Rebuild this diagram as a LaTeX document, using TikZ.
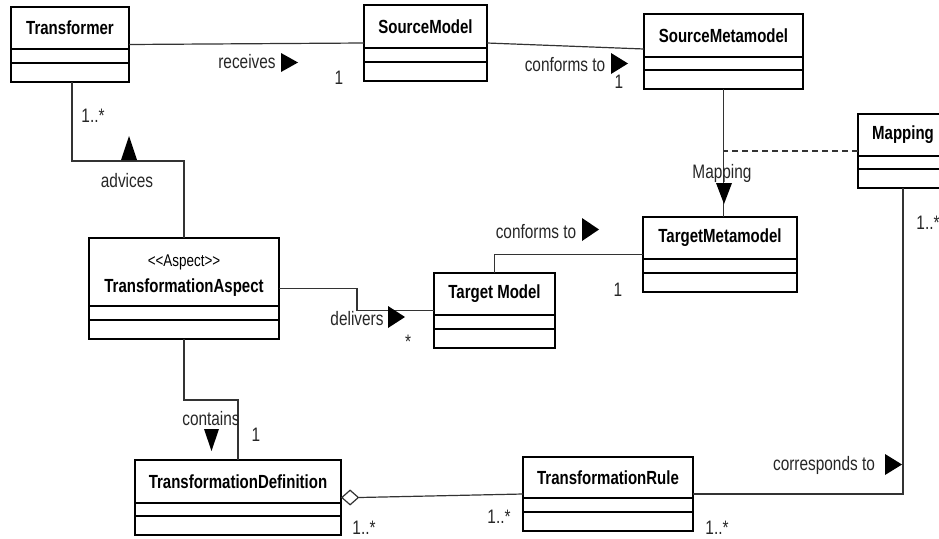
\documentclass[tikz,border=0pt]{standalone}
\usepackage{fontspec}
\setmainfont{Liberation Sans}[FakeStretch=0.79]
\usetikzlibrary{shapes.geometric}
\tikzset{
  classbox/.style={draw=black, line width=2.8pt, inner sep=0pt, outer sep=0pt, rectangle},
  comp/.style={line width=1.4pt},
  cname/.style={font=\fontsize{19}{22}\selectfont\bfseries, inner sep=0pt},
  lbl/.style={font=\fontsize{19.5}{22}\selectfont, inner sep=0pt, text=black!85},
  assoc/.style={line width=1.2pt, draw=black!80},
  dirtri/.style={fill=black},
  aggr/.style={diamond, draw=black!80, fill=white, line width=1.2pt, inner sep=0pt, minimum width=17pt, minimum height=15pt, aspect=1.1},
}
% name, x1, y1, x2, y2, line1, line2, text
\newcommand\umlclass[8]{%
  \node[classbox, minimum width={#4-#2}, minimum height={#5-#3}] (#1) at ({(#2+#4)/2},{(#3+#5)/2}) {};
  \draw[comp] (#2,#6) -- (#4,#6);
  \draw[comp] (#2,#7) -- (#4,#7);
  \node[cname] (#1-n) at ({(#2+#4)/2},{(#3+#6)/2}) {#8};
}
\begin{document}
\begin{tikzpicture}[x=1pt, y=-1pt]
\useasboundingbox (0,0) rectangle (939,538);
\clip (0,0) rectangle (939,538);

% classes
\umlclass{tf}{11}{7}{129}{82}{49}{63}{Transformer}
\umlclass{sm}{364}{5}{487}{81}{48}{62}{SourceModel}
\umlclass{smm}{644}{14}{803}{89}{57}{70}{SourceMetamodel}
\umlclass{mp}{858}{114}{948}{188}{156}{169}{Mapping}
\umlclass{tmm}{643}{217}{797}{292}{259}{273}{TargetMetamodel}
\node[classbox, minimum width=190, minimum height=101] (ta) at (184,288.5) {};
\draw[comp] (89,306) -- (279,306);
\draw[comp] (89,320) -- (279,320);
\node[lbl, text=black, font=\fontsize{17}{20}\selectfont] (ta-s) at (184,262) {<\kern0pt<Aspect>\kern0pt>};
\node[cname] (ta-n) at (184,288) {TransformationAspect};
\umlclass{tm}{434}{273}{555}{348}{315}{329}{Target Model}
\umlclass{td}{135}{460}{341}{535}{503}{516}{TransformationDefinition}
\umlclass{tr}{523}{457}{693}{531}{498}{512}{TransformationRule}

% connectors
\draw[assoc] (tf.east) -- (sm.west);
\draw[assoc] (sm.east) -- ([yshift=2.5pt]smm.west);
\draw[assoc] (smm.south) -- (smm.south |- tmm.north);
\draw[assoc, dashed, dash pattern=on 6pt off 4pt] (mp.west) -- (mp.west -| smm.south);
\draw[assoc] ([xshift=2pt]tf.south) -- ++(0,79) -| (ta.north);
\draw[assoc] (ta.east) -- ++(78,0) |- (tm.west);
\draw[assoc] (tm.north) |- (tmm.west);
\draw[assoc] (ta.south) -- ++(0,61) -| (td.north);
\node[aggr, anchor=west] (agg) at (td.east) {};
\draw[assoc] (agg.east) -- (tr.west);
\draw[assoc] (tr.east) -| (mp.south);

% direction triangles
\fill[dirtri] (281,53) -- (298,62.5) -- (281,72) -- cycle;
\fill[dirtri] (611,53) -- (628,63.5) -- (611,74) -- cycle;
\fill[dirtri] (716,183) -- (732,183) -- (724,204) -- cycle;
\fill[dirtri] (582,218) -- (599,229.5) -- (582,241) -- cycle;
\fill[dirtri] (388,306) -- (405,317) -- (388,328) -- cycle;
\fill[dirtri] (204,429) -- (219,429) -- (211.5,451) -- cycle;
\fill[dirtri] (885,454) -- (902,464.5) -- (885,475) -- cycle;
\fill[dirtri] (121,160) -- (137,160) -- (129,136) -- cycle;

% labels
\node[lbl] (l-rec) at (247,62) {receives};
\node[lbl] (l-rec1) at (339,78) {1};
\node[lbl] (l-conf1) at (565,65) {conforms to};
\node[lbl] (l-conf1m) at (619,82) {1};
\node[lbl] (l-tf) at (93,116) {1..*};
\node[lbl] (l-adv) at (127,181) {advices};
\node[lbl] (l-map) at (722,173) {Mapping};
\node[lbl] (l-mp) at (928,223) {1..*};
\node[lbl] (l-conf2) at (536,232) {conforms to};
\node[lbl] (l-conf2m) at (618,290) {1};
\node[lbl] (l-del) at (357,319) {delivers};
\node[lbl] (l-delm) at (408,342) {*};
\node[lbl] (l-con) at (211,419) {contains};
\node[lbl] (l-conm) at (256,435) {1};
\node[lbl] (l-td) at (364,528) {1..*};
\node[lbl] (l-trl) at (499,517) {1..*};
\node[lbl] (l-cor) at (824,465) {corresponds to};
\node[lbl] (l-trr) at (717,528) {1..*};
\end{tikzpicture}
\end{document}
